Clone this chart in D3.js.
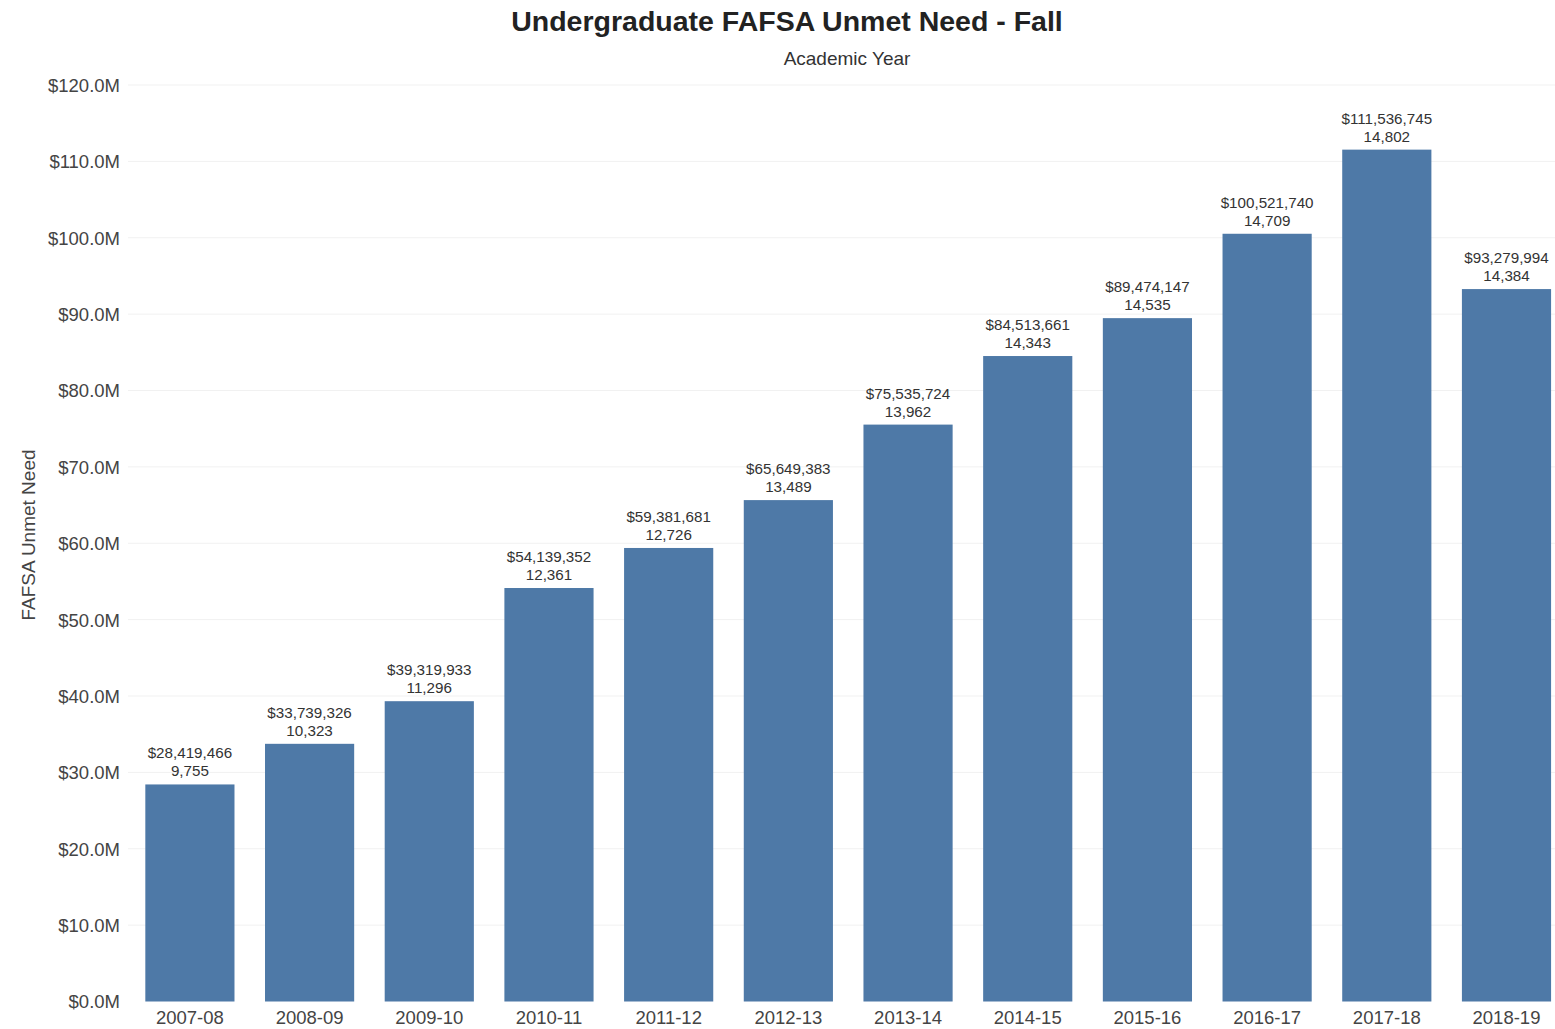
<!DOCTYPE html>
<html>
<head>
<meta charset="utf-8">
<script src="https://cdn.jsdelivr.net/npm/d3@7"></script>
<style>
  body { margin: 0; background: #fff; }
  svg { font-family: Arial, 'Liberation Sans', sans-serif; }
</style>
</head>
<body>
<svg id="chart" width="1555" height="1029"></svg>
<script>
const years = ['2007-08', '2008-09', '2009-10', '2010-11', '2011-12', '2012-13',
  '2013-14', '2014-15', '2015-16', '2016-17', '2017-18', '2018-19']
const unmetNeed = [28419466, 33739326, 39319933, 54139352, 59381681, 65649383,
  75535724, 84513661, 89474147, 100521740, 111536745, 93279994]
const students = [9755, 10323, 11296, 12361, 12726, 13489, 13962, 14343, 14535, 14709, 14802, 14384]
const yTicks = [0, 10, 20, 30, 40, 50, 60, 70, 80, 90, 100, 110, 120].map(d => d * 1e6)

const svg = d3.select('#chart')
const plotLeft = 130
const plotTop = 85
const plotBottom = 1001.5

const x = d3.scaleBand().domain(years).range([plotLeft, plotLeft + 12 * 119.7]).paddingInner(0.255).paddingOuter(0.128)
const y = d3.scaleLinear().domain([0, 120e6]).range([plotBottom, plotTop])

// gridlines
svg.append('g')
  .selectAll('line')
  .data(yTicks.slice(1))
  .join('line')
  .attr('x1', plotLeft - 2)
  .attr('x2', 1555)
  .attr('y1', d => y(d))
  .attr('y2', d => y(d))
  .attr('stroke', '#f1f1f1')
  .attr('stroke-width', 1)

// y axis
const yAxis = svg.append('g')
  .attr('transform', 'translate(' + (plotLeft - 10) + ',0)')
  .call(d3.axisLeft(y).tickValues(yTicks).tickSize(0).tickPadding(0)
    .tickFormat(d => '$' + (d / 1e6).toFixed(1) + 'M'))
yAxis.select('.domain').remove()
yAxis.selectAll('text').attr('font-size', 18.5).attr('fill', '#444').attr('dy', '0.35em')

// bars
svg.append('g')
  .selectAll('rect')
  .data(years)
  .join('rect')
  .attr('x', d => x(d))
  .attr('width', x.bandwidth())
  .attr('y', (d, i) => y(unmetNeed[i]))
  .attr('height', (d, i) => plotBottom - y(unmetNeed[i]))
  .attr('fill', '#4e79a7')

// bar labels
const fmt = d3.format(',')
const labels = svg.append('g')
  .attr('font-size', 15.2)
  .attr('fill', '#333')
  .attr('text-anchor', 'middle')
years.forEach((yr, i) => {
  const cx = x(yr) + x.bandwidth() / 2
  const ty = y(unmetNeed[i])
  labels.append('text').attr('x', cx).attr('y', ty - 26).text('$' + fmt(unmetNeed[i]))
  labels.append('text').attr('x', cx).attr('y', ty - 8).text(fmt(students[i]))
})

// x axis
const xAxis = svg.append('g')
  .attr('transform', 'translate(0,' + plotBottom + ')')
  .call(d3.axisBottom(x).tickSize(0).tickPadding(9))
xAxis.select('.domain').remove()
xAxis.selectAll('text').attr('font-size', 18.5).attr('fill', '#444').attr('dy', '0.71em')

// titles
svg.append('text')
  .attr('x', 787).attr('y', 31)
  .attr('text-anchor', 'middle')
  .attr('font-size', 28.5).attr('font-weight', 'bold').attr('fill', '#222')
  .text('Undergraduate FAFSA Unmet Need - Fall')
svg.append('text')
  .attr('x', 847).attr('y', 65)
  .attr('text-anchor', 'middle')
  .attr('font-size', 19).attr('fill', '#333')
  .text('Academic Year')
svg.append('text')
  .attr('transform', 'translate(35,' + 535 + ') rotate(-90)')
  .attr('text-anchor', 'middle')
  .attr('font-size', 19).attr('fill', '#444')
  .text('FAFSA Unmet Need')
</script>
</body>
</html>
